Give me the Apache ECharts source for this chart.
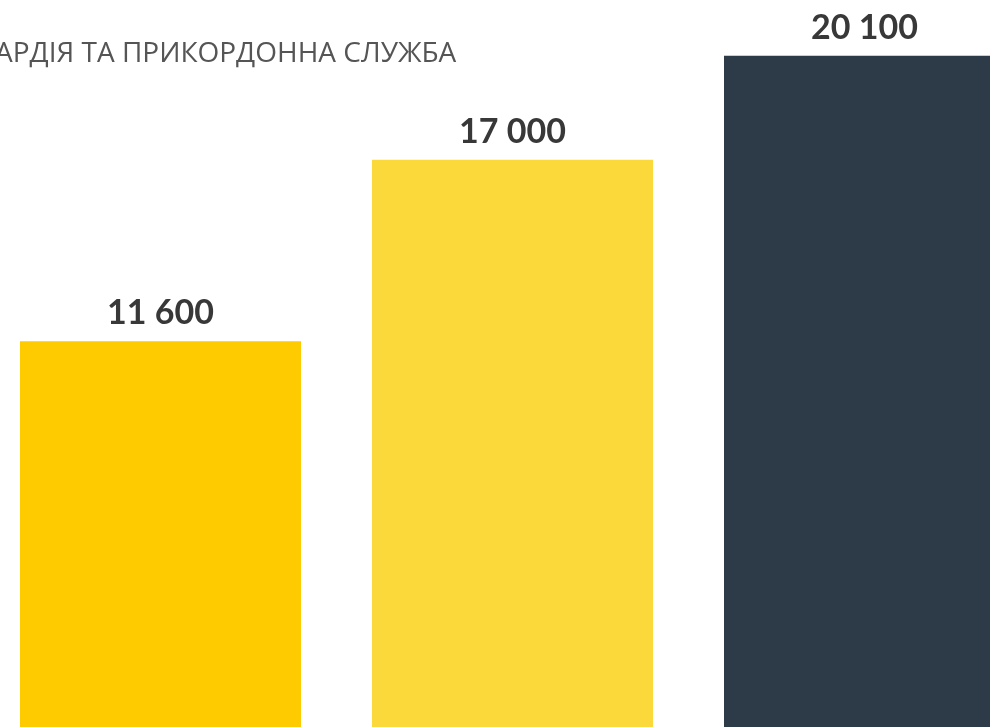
<!DOCTYPE html>
<html>
<head>
<meta charset="utf-8">
<script src="https://cdn.jsdelivr.net/npm/echarts@6/dist/echarts.min.js"></script>
<style>html,body{margin:0;padding:0;background:#fff;}#c{width:990px;height:727px;}</style>
</head>
<body>
<div id="c"></div>
<script>
const categories = ['A', 'B', 'C'];
const values = [11600, 17000, 20100];
const barColors = ['#FECB00', '#FCD93B', '#2D3A48'];
const titleText = 'АРДІЯ ТА ПРИКОРДОННА СЛУЖБА';

const chart = echarts.init(document.getElementById('c'));
function fmt(v) {
  return String(v).replace(/\B(?=(\d{3})+(?!\d))/g, ' ');
}
chart.setOption({
  backgroundColor: '#ffffff',
  animation: false,
  graphic: [{
    type: 'text',
    x: -5,
    y: 40,
    style: {
      text: titleText,
      fill: '#555555',
      font: '28px "Open Sans"'
    }
  }],
  grid: { left: -15.5, width: 1056, top: 25.4, height: 705.6, outerBoundsMode: 'none', containLabel: false },
  xAxis: {
    type: 'category',
    data: categories,
    show: false
  },
  yAxis: {
    type: 'value',
    min: 0,
    max: 21000,
    show: false
  },
  series: [{
    type: 'bar',
    barWidth: 281,
    data: values.map((v, i) => ({ value: v, itemStyle: { color: barColors[i] } })),
    label: {
      show: true,
      position: 'top',
      distance: 11,
      color: '#383838',
      fontFamily: 'Lato',
      fontWeight: 'bold',
      fontSize: 34,
      formatter: p => fmt(p.value)
    }
  }]
});
</script>
</body>
</html>
